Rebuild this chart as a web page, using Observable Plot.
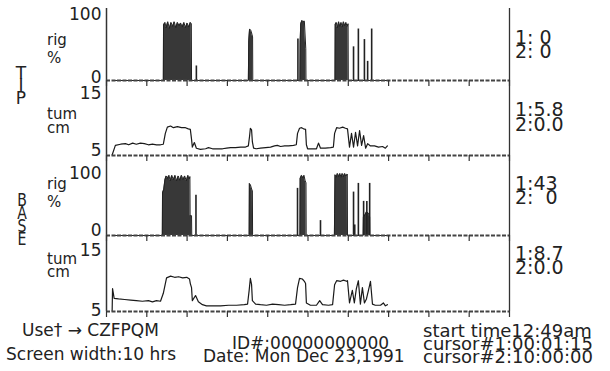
<!DOCTYPE html>
<html>
<head>
<meta charset="utf-8">
<script src="https://cdn.jsdelivr.net/npm/d3@7"></script>
<script src="https://cdn.jsdelivr.net/npm/@observablehq/plot@0.6"></script>
<style>
  html, body { margin: 0; padding: 0; background: #fff; }
  #wrap { position: relative; width: 610px; height: 371px; background: #fff; overflow: hidden;
          font-family: "DejaVu Sans", sans-serif; color: #222; }
  .pnl { position: absolute; left: 0; }
  .t { position: absolute; white-space: pre; }
</style>
</head>
<body>
<div id="wrap"></div>
<script>
// ---------- data ----------
const hourTicks = [0, 1, 2, 3, 4, 5, 6, 7, 8, 9, 10];
const rigTicks = [0, 100];
const tumTicks = [5, 15];

// TIP rigidity (%) - outline of filled episodes, hours
const tipRigT = [0.15, 1.41, 1.415, 1.45, 1.48, 1.52, 1.56, 1.60, 1.64, 1.68, 1.72, 1.76, 1.80, 1.84, 1.88, 1.92, 1.96, 2.00, 2.04, 2.08, 2.105, 2.11,
  3.52, 3.53, 3.55, 3.58, 3.61, 3.625, 3.63,
  4.80, 4.805, 4.82, 4.85, 4.88, 4.91, 4.945, 4.95,
  5.67, 5.675, 5.70, 5.73, 5.76, 5.79, 5.82, 5.85, 5.88, 5.91, 5.94, 5.97, 5.995, 6.00, 6.97];
const tipRigV = [0, 0, 84, 88, 80, 89, 79, 88, 82, 89, 80, 88, 83, 87, 81, 88, 80, 87, 81, 88, 86, 0,
  0, 60, 78, 76, 70, 66, 0,
  0, 58, 86, 91, 89, 90, 48, 0,
  0, 85, 88, 80, 89, 82, 88, 81, 89, 83, 88, 82, 86, 0, 0];
const tipSpikeT = [2.23, 4.75, 6.13, 6.25, 6.40, 6.48, 6.58];
const tipSpikeV = [22, 63, 51, 78, 62, 29, 78];

// TIP tumescence (cm)
const tipTumT = [0.14,0.22,0.35,0.47,0.55,0.65,0.74,0.84,0.94,1.04,1.14,1.24,1.34,1.41,1.46,1.51,1.59,1.66,1.76,1.86,1.96,2.03,2.08,2.11,2.13,2.18,2.23,2.33,2.46,2.53,2.63,2.78,2.88,2.98,3.08,3.20,3.33,3.45,3.52,3.55,3.57,3.60,3.62,3.65,3.72,3.82,3.95,4.07,4.17,4.24,4.32,4.42,4.52,4.64,4.71,4.74,4.79,4.84,4.89,4.94,4.96,4.99,5.11,5.21,5.26,5.31,5.43,5.56,5.63,5.66,5.71,5.78,5.86,5.93,5.98,6.03,6.08,6.13,6.18,6.23,6.28,6.33,6.38,6.43,6.48,6.55,6.65,6.75,6.85,6.92,6.97];
const tipTumV = [4.2,5.9,6.1,6.2,6.0,6.3,6.1,6.3,6.2,6.0,6.1,6.0,6.0,6.1,8.0,9.1,9.3,9.0,9.2,9.0,9.0,8.8,8.7,7.0,5.6,6.4,5.4,5.2,5.3,5.5,5.3,5.3,5.3,5.4,5.5,5.5,5.6,5.6,5.8,7.5,8.9,8.6,6.5,5.4,5.3,5.4,5.5,5.6,5.8,5.9,5.7,5.8,5.8,5.9,6.0,8.0,8.9,9.0,8.8,8.7,6.0,5.3,5.3,5.3,6.3,5.4,5.4,5.5,5.6,8.0,9.0,8.9,9.1,8.9,8.8,5.6,8.0,5.6,8.2,5.8,8.5,5.9,7.6,5.4,6.2,5.8,5.8,5.6,5.7,5.4,5.8];

// BASE rigidity (%)
const baseRigT = [0.15, 1.385, 1.39, 1.42, 1.45, 1.48, 1.51, 1.55, 1.58, 1.62, 1.66, 1.70, 1.74, 1.78, 1.82, 1.86, 1.90, 1.94, 1.98, 2.02, 2.05, 2.07, 2.075, 2.11, 2.115,
  3.54, 3.545, 3.57, 3.60, 3.62, 3.625,
  4.80, 4.805, 4.84, 4.87, 4.90, 4.93, 4.95, 4.955,
  5.655, 5.66, 5.67, 5.70, 5.73, 5.76, 5.79, 5.82, 5.85, 5.88, 5.91, 5.94, 5.975, 5.98,
  6.37, 6.375, 6.42, 6.45, 6.50, 6.53, 6.535, 6.97];
const baseRigV = [0, 0, 69, 74, 90, 96, 92, 97, 88, 97, 90, 97, 88, 96, 89, 97, 90, 96, 88, 97, 91, 95, 32, 32, 0,
  0, 84, 82, 75, 72, 0,
  0, 92, 97, 93, 97, 88, 85, 0,
  0, 35, 98, 94, 100, 95, 100, 94, 100, 95, 100, 96, 99, 0,
  0, 30, 34, 38, 36, 30, 0, 0];
const baseSpikeT = [2.22, 4.74, 5.31, 6.13, 6.16, 6.25, 6.38, 6.46, 6.53];
const baseSpikeV = [65, 76, 24, 70, 17, 84, 55, 55, 84];

// BASE tumescence (cm)
const baseTumT = [0.14,0.15,0.19,0.30,0.45,0.60,0.74,0.89,1.04,1.14,1.24,1.34,1.41,1.49,1.59,1.69,1.79,1.89,1.99,2.06,2.08,2.11,2.13,2.21,2.28,2.38,2.48,2.63,2.83,3.03,3.23,3.42,3.50,3.54,3.57,3.60,3.62,3.70,3.82,3.97,4.12,4.27,4.42,4.57,4.69,4.74,4.79,4.86,4.91,4.94,4.96,5.06,5.21,5.29,5.36,5.51,5.61,5.66,5.71,5.81,5.88,5.96,5.98,6.03,6.10,6.15,6.20,6.25,6.30,6.35,6.40,6.45,6.50,6.55,6.60,6.67,6.80,6.87,6.92,6.97];
const baseTumV = [4.4,8.3,6.6,6.5,6.4,6.3,6.2,6.1,6.2,6.0,6.2,6.1,7.5,10.2,10.5,10.3,10.4,10.2,10.3,10.0,9.2,8.5,6.2,7.1,6.0,5.5,5.3,5.3,5.3,5.4,5.4,5.5,5.6,8.0,10.1,9.0,6.2,5.6,5.5,5.4,5.6,5.5,5.4,5.5,5.6,8.5,10.1,10.0,9.6,9.2,5.8,5.4,5.4,6.2,5.5,5.4,5.5,9.0,9.7,9.6,9.8,9.6,9.7,5.8,8.0,5.8,8.3,9.7,5.6,8.5,5.8,6.5,8.0,9.6,5.6,5.4,5.4,5.8,5.3,5.5];

// text
const panelLabels = [["rig", "%"], ["tum", "cm"], ["rig", "%"], ["tum", "cm"]];
const cursorValues = [["1: 0", "2: 0"], ["1:5.8", "2:0.0"], ["1:43", "2:  0"], ["1:8.7", "2:0.0"]];
const sideLabels = ["TIP", "BASE"];
const footLeft = ["Use\u2020 \u2192 CZFPQM", "Screen width:10 hrs"];
const footMid = ["ID#:00000000000", "Date: Mon Dec 23,1991"];
const footRight = ["start time12:49am", "cursor#1:00:01:15", "cursor#2:10:00:00"];

// ---------- build ----------
const zip = (T, V) => T.map((t, i) => ({t, v: V[i]}));
const wrap = document.getElementById("wrap");
const INK = "#222";

function panel({top, height, mTop, mBottom, domain, ticks, dys, marks}) {
  const ax = ticks.map((tk, i) => Plot.axisY([tk], {anchor: "left", tickSize: 0, tickPadding: 5,
    fontSize: 17, dy: dys[i], fill: INK, label: null}));
  const p = Plot.plot({
    width: 610, height, marginLeft: 106, marginRight: 101, marginTop: mTop, marginBottom: mBottom,
    x: {domain: [0, 10]},
    y: {domain},
    style: {background: "none", overflow: "visible", fontFamily: "DejaVu Sans, sans-serif", color: INK},
    marks: [
      ...marks,
      Plot.ruleX([0], {stroke: "#333", strokeWidth: 1.5}),
      Plot.ruleX([10], {stroke: "#333", strokeWidth: 1.3}),
      Plot.ruleY([domain[0]], {stroke: "#444", strokeWidth: 1.8, strokeDasharray: "4,1.5"}),
      Plot.axisX({ticks: hourTicks, tickSize: 6, tickFormat: () => "", stroke: "#333", strokeWidth: 1.2, label: null}),
      ...ax
    ]
  });
  p.classList.add("pnl");
  p.style.top = top + "px";
  wrap.appendChild(p);
}

function rigMarks(T, V, ST, SV) {
  const d = zip(T, V), s = zip(ST, SV);
  return [
    Plot.areaY(d, {x: "t", y: "v", fill: "#383838"}),
    Plot.lineY(d, {x: "t", y: "v", stroke: "#222", strokeWidth: 1}),
    Plot.ruleX(s, {x: "t", y1: 0, y2: "v", stroke: "#222", strokeWidth: 1.6})
  ];
}
function tumMarks(T, V) {
  return [Plot.lineY(zip(T, V), {x: "t", y: "v", stroke: "#1a1a1a", strokeWidth: 1.2})];
}

panel({top: 0, height: 88, mTop: 8, mBottom: 8, domain: [0, 109.1], ticks: rigTicks, dys: [-3, 0],
  marks: rigMarks(tipRigT, tipRigV, tipSpikeT, tipSpikeV)});
panel({top: 80, height: 83, mTop: 0, mBottom: 8, domain: [4.12, 17.28], ticks: tumTicks, dys: [0, 0],
  marks: tumMarks(tipTumT, tipTumV)});
panel({top: 155, height: 88, mTop: 0, mBottom: 8, domain: [0, 129], ticks: rigTicks, dys: [-5, 0],
  marks: rigMarks(baseRigT, baseRigV, baseSpikeT, baseSpikeV)});
panel({top: 235, height: 84, mTop: 0, mBottom: 8, domain: [4.3, 17.63], ticks: tumTicks, dys: [3, 0],
  marks: tumMarks(baseTumT, baseTumV)});

// place text: cap-centre c, font size fs, line box L
function txt(s, x, c, fs, L, extra) {
  const e = document.createElement("div");
  e.className = "t";
  e.textContent = s;
  e.style.left = x + "px";
  e.style.top = (c - L / 2) + "px";
  e.style.fontSize = fs + "px";
  e.style.lineHeight = L + "px";
  e.style.height = L + "px";
  if (extra) Object.assign(e.style, extra);
  wrap.appendChild(e);
  return e;
}
// baseline -> cap centre
const bc = (b, fs) => b - 0.365 * fs;

// panel unit labels
const unitBase = [[46, 63], [120, 133], [190, 207], [265, 277]];
panelLabels.forEach((pair, i) => {
  txt(pair[0], 47, bc(unitBase[i][0], 15), 15, 13);
  txt(pair[1], 47, bc(unitBase[i][1], 15), 15, 12);
});

// cursor values at right
const valCenters = [[37.5, 51.5], [110, 124.5], [183.5, 197.5], [254, 267.5]];
cursorValues.forEach((pair, i) => {
  txt(pair[0], 515, valCenters[i][0], 19, 13.5);
  txt(pair[1], 515, valCenters[i][1], 19, 13.5);
});

// side labels, stacked letters
function stack(word, cx, firstBaseline, step, fs, sx) {
  [...word].forEach((ch, i) => {
    txt(ch, cx - 10, bc(firstBaseline + i * step, fs), fs, step - 0.5,
      {width: "20px", textAlign: "center", transform: sx ? `scaleX(${sx})` : ""});
  });
}
stack(sideLabels[0], 21, 79, 12.5, 17, 0);
stack(sideLabels[1], 22, 207, 13, 18, 0.78);

// footer
txt(footLeft[0], 22, 330, 17, 13);
txt(footLeft[1], 6, 354, 17, 13);
txt(footMid[0], 232, 343, 17, 12.5);
txt(footMid[1], 203, 356, 17, 12.5);
txt(footRight[0], 423, 331, 18, 12.5);
txt(footRight[1], 423, 344, 18, 12.5);
txt(footRight[2], 423, 357, 18, 12.5);
</script>
</body>
</html>
